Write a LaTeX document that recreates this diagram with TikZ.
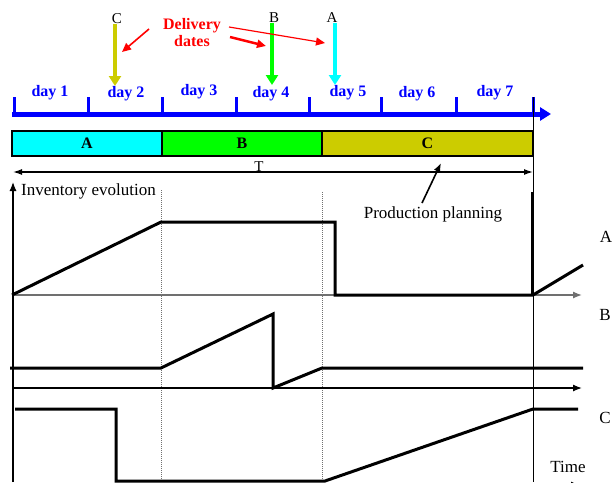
\documentclass[tikz,border=0pt]{standalone}
\usepackage{fontspec}
\setmainfont{Liberation Serif}
\usetikzlibrary{arrows.meta}
\definecolor{olivec}{HTML}{CCCC00}
\definecolor{cyanc}{HTML}{00FFFF}
\definecolor{greenc}{HTML}{00FF00}
\definecolor{bluec}{HTML}{0000FF}
\definecolor{redc}{HTML}{FF0000}
\definecolor{axisgray}{HTML}{707070}
\begin{document}
\begin{tikzpicture}[x=1pt,y=-1pt,
  curve/.style={line width=3pt, line join=miter},
  dayl/.style={text=bluec, inner sep=0pt, font=\fontsize{16}{16}\selectfont\bfseries},
  lab/.style={inner sep=0pt, font=\fontsize{17}{17}\selectfont},
  smalllab/.style={inner sep=0pt, font=\fontsize{15}{15}\selectfont},
  barbox/.style={draw=black, line width=1.2pt, minimum height=25pt, inner sep=0pt, font=\fontsize{16}{16}\selectfont\bfseries},
  deliv/.style={line width=4pt, -{Triangle[length=10pt,width=12pt]}},
  redarrow/.style={redc, -{Triangle[length=9pt,width=8pt]}},
  axisarrow/.style={line width=1.3pt, -{Latex[length=9pt,width=7pt]}},
  dotline/.style={axisgray, line width=1pt, densely dotted}
]
\useasboundingbox (0,0) rectangle (615,482);
\clip (0,0) rectangle (615,482);

% time line with days
\coordinate (tl0) at (12,114);
\coordinate (tl1) at (551,114);
\draw[bluec, line width=5pt, -{Triangle[length=11pt,width=13pt]}] (tl0) -- (tl1);
\foreach \x in {14,88,162,236,309,381,456,533}
  \draw[bluec, line width=3pt] (\x,97) -- (\x,116);
\node[dayl] (day1) at (50,93) {day 1};
\node[dayl] (day2) at (126,94) {day 2};
\node[dayl] (day3) at (199,92) {day 3};
\node[dayl] (day4) at (271,94) {day 4};
\node[dayl] (day5) at (348,93) {day 5};
\node[dayl] (day6) at (417,94) {day 6};
\node[dayl] (day7) at (495,93) {day 7};

% delivery dates
\node[smalllab, anchor=base] (lC) at (117,23) {C};
\node[smalllab, anchor=base] (lB) at (274,22) {B};
\node[smalllab, anchor=base] (lA) at (332,22) {A};
\coordinate (eC) at (115,86);
\coordinate (eB) at (272,85);
\coordinate (eA) at (335,85);
\draw[deliv, olivec] (115,24) -- (eC);
\draw[deliv, greenc] (272,23) -- (eB);
\draw[deliv, cyanc] (335,23) -- (eA);

\node[text=redc, align=center, inner sep=0pt, font=\fontsize{16}{17}\selectfont\bfseries] (dd) at (192,33) {Delivery\\dates};
\coordinate (r1s) at (149,29);
\coordinate (r1e) at (122,52);
\coordinate (r2s) at (230,37);
\coordinate (r2e) at (266,46);
\coordinate (r3s) at (229,27);
\coordinate (r3e) at (325,43);
\draw[redarrow, line width=1.6pt] (r1s) -- (r1e);
\draw[redarrow, line width=2.5pt] (r2s) -- (r2e);
\draw[redarrow, line width=1.2pt] (r3s) -- (r3e);

% production bars
\node[barbox, fill=cyanc, minimum width=150pt] (barA) at (87,143.5) {A};
\node[barbox, fill=greenc, minimum width=160pt] (barB) at (242,143.5) {B};
\node[barbox, fill=olivec, minimum width=211pt] (barC) at (427.5,143.5) {C};

% horizon T
\coordinate (T0) at (13,172);
\coordinate (T1) at (533,172);
\draw[line width=1.3pt, {Latex[length=9pt,width=6pt]}-{Latex[length=9pt,width=6pt]}] (T0) -- (T1);
\node[smalllab, anchor=base] (Tl) at (259,171) {T};

% production planning label
\node[lab] (pp) at (433,214) {Production planning};
\coordinate (ppe) at (441,163);
\draw[line width=1.6pt, -{Latex[length=9pt,width=7pt]}] (422,203) -- (ppe);

% axes
\draw[axisarrow, line width=1.2pt] (13,482) -- (13,182);
\node[lab, anchor=base west] (inv) at (21,195) {Inventory evolution};
\draw[dotline] (161,190) -- (161,482);
\draw[dotline] (322,192) -- (322,482);
\draw[line width=1pt] (533,97) -- (533,482);

\draw[axisarrow, axisgray] (13,295) -- (582,295);
\draw[axisarrow] (13,388) -- (582,388);
\draw[axisarrow] (13,485) -- (580,485);

% curves
\draw[curve] (12,295) -- (161,222) -- (335,222) -- (335,295) -- (533,295) -- (583,265);
\draw[curve] (532,192) -- (532,295);
\draw[curve] (10,368) -- (161,368) -- (273,314) -- (273,388) -- (322,368) -- (583,368);
\draw[curve] (15,409) -- (116,409) -- (116,481) -- (325,481) -- (533,409) -- (578,409);

% right labels
\node[lab] (nA) at (606,237) {A};
\node[lab] (nB) at (605,315) {B};
\node[lab] (nC) at (605,418) {C};
\node[lab, anchor=base] (time) at (568,472) {Time};
\end{tikzpicture}
\end{document}
